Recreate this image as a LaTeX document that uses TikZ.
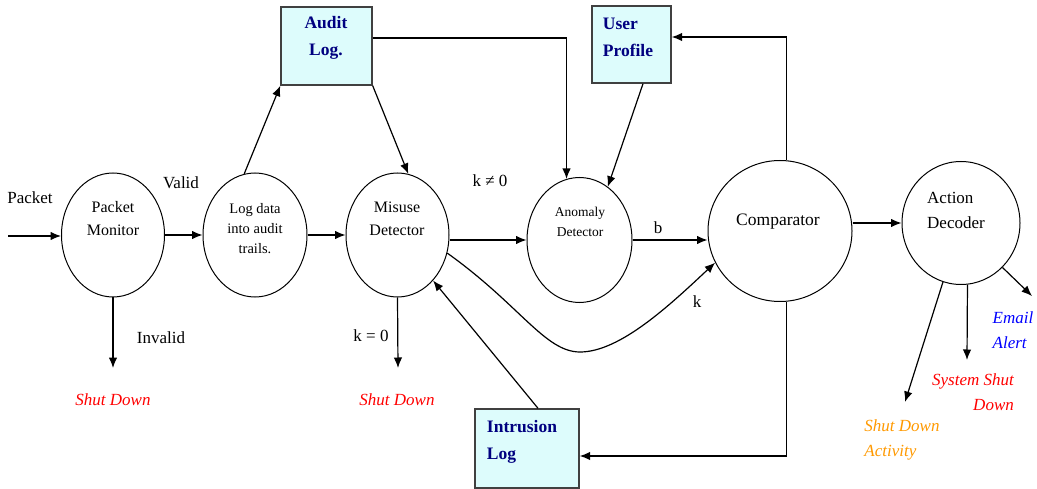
\documentclass[tikz,border=0pt]{standalone}
\usepackage{fontspec}
\setmainfont{Liberation Serif}
\usetikzlibrary{shapes.geometric,arrows.meta}
\definecolor{boxfill}{HTML}{DDFCFC}
\definecolor{navy}{HTML}{000080}
\definecolor{outorange}{HTML}{FF9900}
\begin{document}
\begin{tikzpicture}[x=1pt,y=-1pt,
  proc/.style={draw, ellipse, line width=1pt, inner sep=0pt},
  store/.style={draw=black!75, fill=boxfill, line width=1.4pt, inner sep=0pt},
  flow/.style={-{Latex[length=10.5pt,width=8.5pt]}, line width=1.2pt},
  lbl/.style={font=\fontsize{17}{19}\selectfont, inner sep=0pt},
  ptext/.style={align=center, inner sep=0pt},
  btext/.style={text=navy, font=\fontsize{17.5}{27}\selectfont\bfseries, inner sep=0pt},
  outtxt/.style={font=\fontsize{17}{25}\selectfont\itshape, inner sep=0pt}]
\useasboundingbox (0,0) rectangle (1037,489);

% process circles
\node[proc, minimum width=103pt, minimum height=124pt] (pm) at (113,235) {};
\node[proc, minimum width=104pt, minimum height=124pt] (ld) at (255,235) {};
\node[proc, minimum width=103pt, minimum height=124pt] (md) at (397.5,235) {};
\node[proc, minimum width=105pt, minimum height=125pt] (ad) at (579.5,240) {};
\node[proc, minimum width=144pt, minimum height=141pt] (cp) at (780,231) {};
\node[proc, minimum width=118pt, minimum height=123pt] (dc) at (961,223) {};

% stores
\node[store, minimum width=91pt, minimum height=78pt] (al) at (326.5,46) {};
\node[store, minimum width=79pt, minimum height=77pt] (up) at (631.5,44.5) {};
\node[store, minimum width=104pt, minimum height=79pt] (il) at (527,448.5) {};

% circle texts
\node[ptext, font=\fontsize{16}{23}\selectfont] (pmt) at (113,219) {Packet\\Monitor};
\node[ptext, font=\fontsize{14.5}{20}\selectfont] (ldt) at (255,229) {Log data\\into audit\\trails.};
\node[ptext, font=\fontsize{16}{23}\selectfont] (mdt) at (397,219) {Misuse\\Detector};
\node[ptext, font=\fontsize{13.5}{20}\selectfont] (adt) at (580,222) {Anomaly\\Detector};
\node[ptext, font=\fontsize{17.5}{20}\selectfont] (cpt) at (778,222) {Comparator};
\node[ptext, align=left, font=\fontsize{17}{25}\selectfont] (dct) at (956,210) {Action\\Decoder};

% store texts
\node[btext, align=center] (alt) at (326,38) {Audit\\Log.};
\node[btext, align=left] (upt) at (628,37) {User\\Profile};
\node[btext, align=left] (ilt) at (522,442) {Intrusion\\Log};

% free ends
\coordinate (pin) at (8,236);
\coordinate (o0) at (113,368);
\coordinate (o4) at (398,368);
\coordinate (o1) at (905,402);
\coordinate (o2) at (967,360);
\coordinate (o3) at (1032,296);

% connectors
\draw[flow] (pin) -- (pin -| pm.west);
\draw[flow] (pm.east) -- (ld.west);
\draw[flow] (pm.south) -- (o0);
\draw[flow] (ld.100) -- (al.south west);
\draw[flow] (ld.east) -- (md.west);
\draw[flow] (al.south east) -- (md.80);
\draw[flow] ([yshift=8pt]al.east) -| (ad.102);
\draw[flow] ([xshift=11.5pt]up.south) -- (ad.62);
\draw[flow] (md.east |- ad.west) -- (ad.west);
\draw[flow] (ad.east) -- (ad.east -| cp.west);
\draw[flow] (md.-20) .. controls (520,305) and (545,352) .. (580,352)
            .. controls (620,352) and (670,305) .. (cp.206);
\draw[flow] (md.south) -- (o4);
\draw[flow] ([xshift=11pt]il.north) -- (md.-52);
\draw[flow] (cp.-85) |- ([yshift=-7.5pt]il.east);
\draw[flow] (cp.85) |- ([yshift=7.5pt]up.east);
\draw[flow] (cp.east |- dc.west) -- (dc.west);
\draw[flow] (dc.-107) -- (o1);
\draw[flow] (dc.-84) -- (o2);
\draw[flow] (dc.-47) -- (o3);

% connector labels
\node[lbl] (lpacket) at (30,198) {Packet};
\node[lbl] (lvalid) at (181,183) {Valid};
\node[lbl] (linvalid) at (161,338) {Invalid};
\node[lbl] (lk0) at (371,336) {k = 0};
\node[lbl] (lkn0) at (490,181) {k ≠ 0};
\node[lbl] (lb) at (658,228) {b};
\node[lbl] (lk) at (697,302) {k};

% outputs
\node[outtxt, text=red] (sd1) at (113,400) {Shut Down};
\node[outtxt, text=red] (sd2) at (397,400) {Shut Down};
\node[outtxt, text=outorange, align=left] (sda) at (902,440) {Shut Down\\Activity};
\node[outtxt, text=red, align=right] (ssd) at (973,392) {System Shut\\Down};
\node[outtxt, text=blue, align=left] (ema) at (1013,330) {Email\\Alert};
\end{tikzpicture}
\end{document}
